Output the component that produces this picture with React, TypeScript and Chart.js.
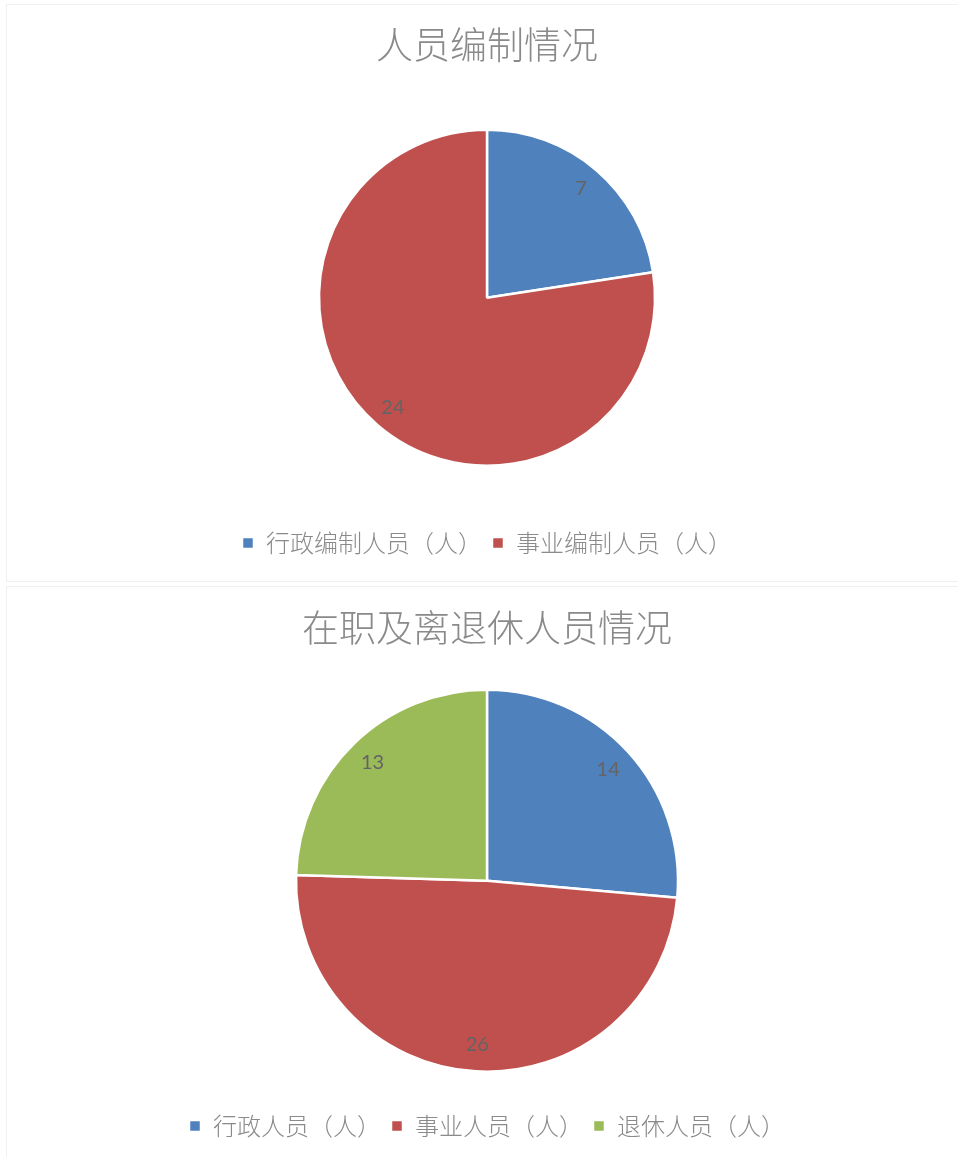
import React, { useEffect, useRef } from "react";
import { Chart, registerables } from "chart.js";

Chart.register(...registerables);

const title1 = "人员编制情况";
const labels1 = ["行政编制人员（人）", "事业编制人员（人）"];
const values1 = [7, 24];
const colors1 = ["#4f81bd", "#c0504d"];

const title2 = "在职及离退休人员情况";
const labels2 = ["行政人员（人）", "事业人员（人）", "退休人员（人）"];
const values2 = [14, 26, 13];
const colors2 = ["#4f81bd", "#c0504d", "#9bbb59"];

const CJK = '"Noto Sans CJK SC", "Noto Sans", sans-serif';

const dataLabelPlugin = {
  id: "pieValueLabels",
  afterDatasetsDraw(chart: any) {
    const ctx = chart.ctx;
    const meta = chart.getDatasetMeta(0);
    const ds = chart.data.datasets[0];
    ctx.save();
    ctx.font = '20px Lato, "Open Sans", sans-serif';
    ctx.fillStyle = "#646464";
    ctx.textAlign = "center";
    ctx.textBaseline = "middle";
    meta.data.forEach((arc: any, i: number) => {
      const p = arc.getProps(["x", "y", "startAngle", "endAngle", "outerRadius"], true);
      const mid = (p.startAngle + p.endAngle) / 2;
      const r = p.outerRadius * 0.86;
      ctx.fillText(String(ds.data[i]), p.x + Math.cos(mid) * r, p.y + Math.sin(mid) * r);
    });
    ctx.restore();
  },
};

function PieChart(props: { title: string; labels: string[]; values: number[]; colors: string[]; radius: number }) {
  const ref = useRef<HTMLCanvasElement | null>(null);
  useEffect(() => {
    if (!ref.current) return;
    const chart = new Chart(ref.current, {
      type: "pie",
      data: {
        labels: props.labels,
        datasets: [
          {
            data: props.values,
            backgroundColor: props.colors,
            borderColor: "#ffffff",
            borderWidth: 2.5,
            radius: props.radius,
          } as any,
        ],
      },
      options: {
        animation: false,
        responsive: false,
        maintainAspectRatio: false,
        layout: { padding: { top: 0, bottom: 17, left: 0, right: 0 } },
        plugins: {
          title: {
            display: true,
            text: props.title,
            color: "#8a8a8a",
            font: { family: CJK, size: 37, weight: "300" as any, lineHeight: 1.2 },
            padding: { top: 19, bottom: 7 },
          },
          legend: {
            display: true,
            position: "bottom",
            labels: {
              boxWidth: 12,
              boxHeight: 12,
              padding: 10,
              color: "#8a8a8a",
              font: { family: CJK, size: 24, weight: "300" as any },
            },
          },
          tooltip: { enabled: false },
        },
      },
      plugins: [dataLabelPlugin],
    });
    return () => chart.destroy();
  }, []);
  return <canvas ref={ref} width={962} height={578} style={{ display: "block" }} />;
}

export default function App() {
  return (
    <div
      style={{
        position: "absolute",
        left: 0,
        top: 0,
        width: 958,
        height: 1157,
        overflow: "hidden",
        background: "#ffffff",
      }}
    >
      <div
        style={{
          position: "absolute",
          left: 6,
          top: 4,
          width: 980,
          height: 578,
          border: "1px solid #f0f0f0",
          boxSizing: "border-box",
        }}
      />
      <div
        style={{
          position: "absolute",
          left: 6,
          top: 586,
          width: 980,
          height: 600,
          border: "1px solid #f0f0f0",
          boxSizing: "border-box",
        }}
      />
      <div style={{ position: "absolute", left: 6, top: 4 }}>
        <PieChart title={title1} labels={labels1} values={values1} colors={colors1} radius={168} />
      </div>
      <div style={{ position: "absolute", left: 6, top: 587 }}>
        <PieChart title={title2} labels={labels2} values={values2} colors={colors2} radius={191} />
      </div>
    </div>
  );
}
